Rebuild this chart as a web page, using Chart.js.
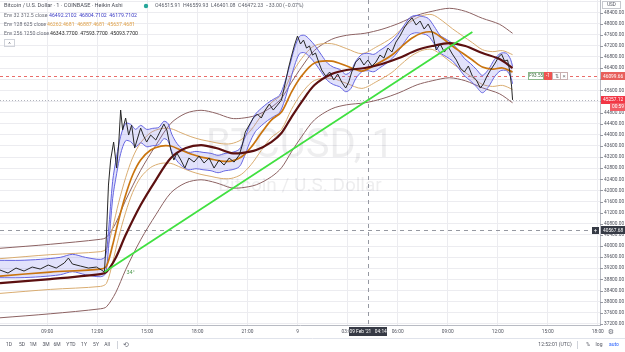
<!DOCTYPE html>
<html><head><meta charset="utf-8">
<script src="https://cdn.jsdelivr.net/npm/chart.js@4"></script>
<style>html,body{margin:0;padding:0;background:#fff;overflow:hidden}canvas{display:block}</style>
</head><body>
<canvas id="c" width="625" height="352"></canvas>
<script>
// ---- time axis: hours since 08 Feb 2021 00:00 UTC ----
const xTicks = [9,12,15,18,21,24,27,30,33,36,39,42];
const xTickLabels = ['09:00','12:00','15:00','18:00','21:00','9','03:00','06:00','09:00','12:00','15:00','18:00'];
const yTicks = [37200,37600,38000,38400,38800,39200,39600,40000,40400,40800,41200,41600,42000,42400,42800,43200,43600,44000,44400,44800,45200,45600,46000,46400,46800,47200,47600,48000,48400,48800];

// ---- Heikin Ashi closes (BTC/USD, 1 min, sampled) ----
const priceTimes = [6.17,6.65,7.13,7.61,8.10,8.58,9.06,9.54,10.02,10.27,10.51,10.99,11.47,11.95,12.25,12.43,
 12.55,12.67,12.80,12.98,13.16,13.28,13.40,13.52,13.70,13.88,14.06,14.24,14.42,14.60,14.78,14.96,15.20,15.51,15.81,15.99,
 16.17,16.41,16.59,16.77,17.01,17.25,17.49,17.80,18.10,18.40,18.70,19.00,19.30,19.60,19.90,20.20,20.51,20.69,20.87,21.11,
 21.35,21.59,21.83,22.07,22.31,22.55,22.80,23.04,23.28,23.46,23.64,23.82,24.00,24.18,24.36,24.54,24.72,24.90,25.08,25.27,
 25.45,25.69,25.93,26.17,26.41,26.65,26.89,27.07,27.25,27.49,27.73,27.98,28.22,28.46,28.70,28.94,29.18,29.42,29.66,29.90,
 30.14,30.39,30.63,30.87,31.11,31.35,31.59,31.83,32.07,32.31,32.55,32.80,33.04,33.28,33.52,33.76,34.00,34.24,34.48,34.72,
 34.96,35.14,35.33,35.57,35.81,36.05,36.23,36.41,36.59,36.71,36.83,36.89];
const priceValues = [39137,39029,39209,39101,39245,39173,39317,39209,39389,39568,39353,39281,39209,39245,39137,39065,
 40396,42194,43093,43741,42806,43633,44892,44173,44604,43993,44352,43525,43885,44244,43957,43741,43993,43813,44173,44388,
 44173,43453,43093,43345,43093,42806,43165,43021,43237,42986,43165,42806,43093,42914,43165,43021,43273,43633,44101,44352,
 44604,44748,44604,44892,45108,44892,45072,45252,45899,46403,46834,47230,47554,47266,47410,47122,47194,46870,46942,46618,
 46331,46115,46259,45971,46187,45899,45683,45899,46259,46618,46762,46511,46690,46475,46618,46870,46762,47122,46978,47338,
 47554,47841,48057,48201,47949,48093,47805,47985,47698,47050,47266,46978,47158,46906,46690,46403,46259,46475,46115,45971,
 45683,45827,46079,46331,46547,46798,46906,46654,46690,46331,45755,45257];

// ---- Envelope 32 (basis) ----
const env32Times = [6.17,7.37,8.58,9.78,10.51,11.29,12.19,12.49,12.67,12.92,13.16,13.40,13.70,14.00,14.30,14.60,14.96,15.32,15.69,15.99,
 16.23,16.47,16.77,17.13,17.49,17.92,18.34,18.82,19.24,19.66,20.08,20.51,20.81,21.11,21.47,21.83,22.19,22.55,22.92,23.22,
 23.52,23.82,24.12,24.42,24.72,25.08,25.45,25.81,26.17,26.53,26.89,27.19,27.49,27.86,28.22,28.58,28.94,29.30,29.66,30.02,
 30.39,30.75,31.11,31.47,31.83,32.19,32.55,32.92,33.28,33.64,34.00,34.36,34.72,35.08,35.45,35.81,36.17,36.53,36.77,36.89];
const env32Basis = [39173,39173,39209,39281,39389,39281,39209,39317,40216,42014,42914,43633,44101,44065,43885,44029,43885,43921,43957,44173,
 44101,43705,43381,43165,43057,43093,43057,43021,42950,43021,43057,43165,43525,43993,44424,44640,44820,44964,45108,45539,
 46151,46798,47230,47266,47122,46870,46547,46259,46115,46043,45863,45971,46331,46583,46618,46583,46727,46870,47050,47302,
 47626,47913,47985,47949,47877,47590,47266,47122,46978,46726,46439,46259,46043,45827,46043,46403,46618,46618,46403,46151];
const env32Offset = 312.5;

// ---- Envelope 128 (basis) ----
const env128Times = [6.17,9.18,12.19,12.55,12.92,13.28,13.70,14.12,14.60,15.20,15.81,16.41,17.01,17.61,18.22,18.82,19.42,20.02,20.63,21.23,
 21.83,22.43,23.04,23.64,24.24,25.02,26.05,26.95,27.86,28.76,29.66,30.27,30.87,31.47,32.07,32.67,33.28,33.88,34.48,35.08,35.69,36.29,36.89];
const env128Basis = [38921,39065,39173,39281,40036,40935,41834,42554,43093,43453,43597,43597,43453,43309,43201,43129,43057,43057,43201,43561,
 44065,44532,44820,45539,46115,46583,46654,46475,46295,46547,46870,47194,47482,47662,47698,47482,47194,46942,46690,46439,46367,46403,46259];
const env128Offset = 625;

// ---- Envelope 256 (basis) ----
const env256Times = [6.17,9.18,12.19,12.55,13.10,13.70,14.60,15.51,16.41,17.31,18.22,19.12,20.02,20.63,21.53,22.43,23.04,23.64,24.24,25.02,
 26.05,26.95,28.04,29.06,30.08,31.17,32.07,33.10,34.06,35.08,36.11,36.89];
const env256Basis = [38669,38813,38993,39065,39568,40396,41475,42374,43165,43525,43633,43525,43345,43345,43453,43741,44065,44640,45180,45791,
 46187,46331,46403,46547,46762,47050,47194,47302,47194,46942,46726,46403];
const env256Offset = 1250;

// ---- trend line (drawn) ----
const trendTimes = [12.43, 34.48];
const trendValues = [39065, 47698];

// ---- marked prices ----
const orderPrice = 46099.66;
const lastPrice = 45257.12;
const crossPrice = 40567.68;
const crossTime = 28.233; // 09 Feb '21 04:14

const pts = (t, v) => t.map((x, i) => ({x, y: v[i]}));
const line = (data, color, w, extra) => Object.assign({data, borderColor: color, borderWidth: w, pointRadius: 0, fill: false, tension: 0.3}, extra || {});

const datasets = [
  line(pts(trendTimes, trendValues), '#40e040', 1.8, {tension: 0}),
  line(pts(priceTimes, priceValues), '#262626', 1, {tension: 0}),
  line(pts(env256Times, env256Basis), '#5c1010', 2.2),
  line(pts(env128Times, env128Basis), '#c9740f', 1.7),
  line(pts(env32Times, env32Basis.map(v => v + env32Offset)), '#6464e0', 1, {fill: '+1', backgroundColor: 'rgba(125,125,235,0.22)'}),
  line(pts(env32Times, env32Basis.map(v => v - env32Offset)), '#6464e0', 1),
  line(pts(env128Times, env128Basis.map(v => v + env128Offset)), '#d9ac70', 1),
  line(pts(env128Times, env128Basis.map(v => v - env128Offset)), '#d9ac70', 1),
  line(pts(env256Times, env256Basis.map(v => v + env256Offset)), '#8c6262', 1),
  line(pts(env256Times, env256Basis.map(v => v - env256Offset)), '#8c6262', 1)
];

const F = 'Roboto, "Liberation Sans", sans-serif';
function txt(ctx, s, x, y, font, color, align) {
  ctx.font = font; ctx.fillStyle = color; ctx.textAlign = align || 'left'; ctx.textBaseline = 'middle';
  ctx.fillText(s, x, y);
  return ctx.measureText(s).width;
}

const overlay = {
  id: 'overlay',
  beforeDatasetsDraw(chart) {
    const {ctx, chartArea: a, scales: {x: sx, y: sy}} = chart;
    ctx.save();
    ctx.beginPath(); ctx.rect(a.left, a.top, a.width, a.height); ctx.clip();
    txt(ctx, 'BTCUSD, 1', (a.left + a.right) / 2, 147, '40px ' + F, 'rgba(60,60,70,0.085)', 'center');
    txt(ctx, 'Bitcoin / U.S. Dollar', (a.left + a.right) / 2, 186, '19px ' + F, 'rgba(60,60,70,0.085)', 'center');
    let y = sy.getPixelForValue(lastPrice);
    ctx.setLineDash([1, 2]); ctx.strokeStyle = '#b0b3bb'; ctx.lineWidth = 1;
    ctx.beginPath(); ctx.moveTo(a.left, Math.round(y) + 0.5); ctx.lineTo(a.right, Math.round(y) + 0.5); ctx.stroke();
    y = sy.getPixelForValue(orderPrice);
    ctx.setLineDash([3, 3]); ctx.strokeStyle = 'rgba(229,83,80,0.85)';
    ctx.beginPath(); ctx.moveTo(a.left, Math.round(y) + 0.5); ctx.lineTo(a.right, Math.round(y) + 0.5); ctx.stroke();
    ctx.setLineDash([4, 4]); ctx.strokeStyle = '#9598a1';
    y = sy.getPixelForValue(crossPrice);
    ctx.beginPath(); ctx.moveTo(a.left, Math.round(y) + 0.5); ctx.lineTo(a.right, Math.round(y) + 0.5); ctx.stroke();
    const cx = sx.getPixelForValue(crossTime);
    ctx.beginPath(); ctx.moveTo(Math.round(cx) + 0.5, a.top); ctx.lineTo(Math.round(cx) + 0.5, a.bottom); ctx.stroke();
    ctx.restore();
  },
  afterDraw(chart) {
    const {ctx, chartArea: a, scales: {x: sx, y: sy}} = chart;
    ctx.save();
    txt(ctx, '34°', sx.getPixelForValue(14.0), sy.getPixelForValue(39029), '5.5px ' + F, '#4f9a4f', 'center');
    txt(ctx, 'Bitcoin / U.S. Dollar · 1 · COINBASE · Heikin Ashi', 4, 6, '5.6px ' + F, '#4a4d57');
    ctx.fillStyle = '#26a69a'; ctx.beginPath(); ctx.arc(146, 6, 2.2, 0, Math.PI * 2); ctx.fill();
    txt(ctx, 'O46515.91  H46559.93  L46401.08  C46472.23  −33.00 (−0.07%)', 155, 6, '5.2px ' + F, '#5d606b');
    txt(ctx, 'Env 32 312.5 close', 4, 16, '5.2px ' + F, '#6a6d78');
    txt(ctx, '46492.2102  46804.7102  46179.7102', 49, 16, '5.2px ' + F, '#3a3ac4');
    txt(ctx, 'Env 128 625 close', 4, 25, '5.2px ' + F, '#6a6d78');
    txt(ctx, '46262.4681  46887.4681  45637.4681', 47, 25, '5.2px ' + F, '#e0a24a');
    txt(ctx, 'Env 256 1250 close', 4, 34, '5.2px ' + F, '#6a6d78');
    txt(ctx, '46343.7700  47593.7700  45093.7700', 50, 34, '5.2px ' + F, '#2a2a2a');
    ctx.strokeStyle = '#d0d3da'; ctx.lineWidth = 1; ctx.strokeRect(4.5, 39.5, 10, 7);
    txt(ctx, '^', 9.5, 44, '6px ' + F, '#6a6d78', 'center');
    ctx.strokeStyle = '#9598a1'; ctx.lineWidth = 1;
    yTicks.forEach(v => {
      const y = sy.getPixelForValue(v);
      if (y < 3 || y > a.bottom + 1) return;
      ctx.beginPath(); ctx.moveTo(a.right, Math.round(y) + 0.5); ctx.lineTo(a.right + 3, Math.round(y) + 0.5); ctx.stroke();
      txt(ctx, v.toFixed(2), 604, y, '4.8px ' + F, '#50535e');
    });
    ctx.fillStyle = '#fff'; ctx.fillRect(602, 1, 19, 8);
    ctx.strokeStyle = '#c6c8ce'; ctx.strokeRect(602.5, 1.5, 18, 7);
    txt(ctx, 'USD', 611.5, 5.3, '4.6px ' + F, '#50535e', 'center');
    const box = (v, s, bg, x0, dy) => {
      const y = sy.getPixelForValue(v) + (dy || 0);
      ctx.fillStyle = bg; ctx.fillRect(x0, Math.round(y) - 4, 625 - x0, 8);
      txt(ctx, s, x0 + 2, y + 0.3, '4.8px ' + F, '#fff');
    };
    box(orderPrice, orderPrice.toFixed(2), '#e8605c', 601);
    box(lastPrice, lastPrice.toFixed(2), '#f23645', 601);
    box(lastPrice, '00:59', '#f25c66', 610, 7);
    box(crossPrice, crossPrice.toFixed(2), '#363a45', 601);
    const cy = Math.round(sy.getPixelForValue(crossPrice));
    ctx.fillStyle = '#363a45'; ctx.fillRect(592, cy - 3, 7, 7);
    txt(ctx, '+', 595.5, cy + 0.4, '6px ' + F, '#fff', 'center');
    const oy = Math.round(sy.getPixelForValue(orderPrice));
    ctx.fillStyle = '#fff'; ctx.fillRect(528, oy - 4, 40, 8);
    ctx.strokeStyle = '#8bb88b'; ctx.strokeRect(528.5, oy - 3.5, 15, 7);
    txt(ctx, 'F93.55', 536, oy + 0.3, '4.6px ' + F, '#3d6b3d', 'center');
    ctx.fillStyle = '#ef5350'; ctx.fillRect(544, oy - 4, 8, 8);
    txt(ctx, '-1', 548, oy + 0.3, '4.6px ' + F, '#fff', 'center');
    ctx.strokeStyle = '#c9b0b0'; ctx.strokeRect(552.5, oy - 3.5, 8, 7); ctx.strokeRect(560.5, oy - 3.5, 7, 7);
    txt(ctx, '⇅', 556.5, oy + 0.3, '5px ' + F, '#777', 'center');
    txt(ctx, '×', 564, oy + 0.3, '6px ' + F, '#777', 'center');
    xTicks.forEach((h, i) => {
      txt(ctx, xTickLabels[i], sx.getPixelForValue(h), 332, '4.8px ' + F, '#50535e', 'center');
    });
    const cx = sx.getPixelForValue(crossTime);
    ctx.fillStyle = '#363a45'; ctx.fillRect(Math.round(cx) - 19, 327, 38, 9);
    txt(ctx, "09 Feb '21   04:14", cx, 331.8, '4.8px ' + F, '#fff', 'center');
    txt(ctx, '⚙', 611, 332, '7px "DejaVu Sans"', '#6a6d78', 'center');
    ctx.strokeStyle = '#e0e3eb'; ctx.beginPath(); ctx.moveTo(0, 338.5); ctx.lineTo(625, 338.5); ctx.stroke();
    const tb = [['1D', 9], ['5D', 22], ['1M', 33], ['3M', 46], ['6M', 57], ['YTD', 71], ['1Y', 84], ['5Y', 96], ['All', 107]];
    tb.forEach(([s, px]) => txt(ctx, s, px, 345, '5px ' + F, '#50535e', 'center'));
    ctx.strokeStyle = '#d0d3da'; ctx.beginPath(); ctx.moveTo(117.5, 341); ctx.lineTo(117.5, 349); ctx.stroke();
    txt(ctx, '⟲', 126, 345, '7px "DejaVu Sans"', '#6a6d78', 'center');
    txt(ctx, '12:52:01 (UTC)', 555, 345, '5px ' + F, '#50535e', 'center');
    ctx.beginPath(); ctx.moveTo(577.5, 341); ctx.lineTo(577.5, 349); ctx.stroke();
    txt(ctx, '%', 588, 345, '5px ' + F, '#50535e', 'center');
    txt(ctx, 'log', 599, 345, '5px ' + F, '#50535e', 'center');
    txt(ctx, 'auto', 614, 345, '5px ' + F, '#2962ff', 'center');
    ctx.restore();
  }
};

new Chart(document.getElementById('c'), {
  type: 'line',
  data: {datasets},
  options: {
    responsive: false, animation: false, devicePixelRatio: 1,
    layout: {padding: 0},
    plugins: {legend: {display: false}, tooltip: {enabled: false}},
    scales: {
      x: {
        type: 'linear', min: 6.17, max: 42.13,
        afterBuildTicks: s => { s.ticks = xTicks.map(v => ({value: v})); },
        afterFit: s => { s.height = 27; },
        ticks: {display: false},
        grid: {color: '#ececf0', drawTicks: false},
        border: {display: true, color: '#b8bbc3'}
      },
      y: {
        position: 'right', min: 37160, max: 48850,
        afterBuildTicks: s => { s.ticks = yTicks.map(v => ({value: v})); },
        afterFit: s => { s.width = 25; },
        ticks: {display: false},
        grid: {color: '#ececf0', drawTicks: false},
        border: {display: true, color: '#b8bbc3'}
      }
    }
  },
  plugins: [overlay]
});
</script>
</body></html>
